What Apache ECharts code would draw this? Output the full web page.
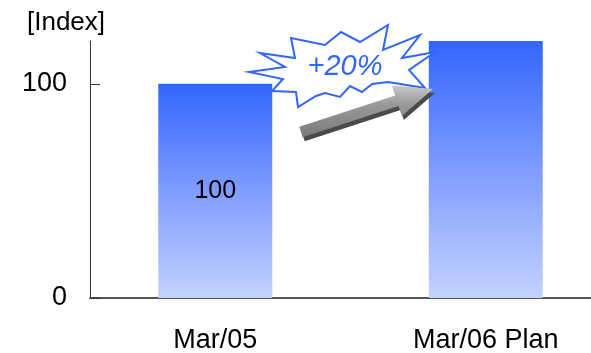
<!DOCTYPE html>
<html>
<head>
<meta charset="utf-8">
<script src="https://cdn.jsdelivr.net/npm/echarts@6/dist/echarts.min.js"></script>
<style>
  html, body { margin: 0; padding: 0; background: #fff; }
  #chart { width: 591px; height: 353px; }
</style>
</head>
<body>
<div id="chart"></div>
<script>
// Index comparison: actual vs. plan
const categories = ['Mar/05', 'Mar/06 Plan'];
const indexValues = [100, 120];
const yTickValues = [0, 100];
const yAxisTitle = '[Index]';

const FONT = '"Liberation Sans", Arial, Helvetica, sans-serif';
const growthPct = Math.round((indexValues[1] / indexValues[0] - 1) * 100);
const growthText = '+' + growthPct + '%';

const barGradient = new echarts.graphic.LinearGradient(0, 0, 0, 1, [
  { offset: 0, color: '#3366ff' },
  { offset: 0.5, color: '#7f9cff' },
  { offset: 1, color: '#c4d2ff' }
]);

// Starburst callout outline
const burst = [
  [249, 72], [285, 67], [260, 53], [295, 58], [291, 38], [325, 45],
  [341, 32], [360, 42], [388, 25], [383, 50], [420, 35], [402, 58],
  [435, 52], [409, 70], [425, 88], [388, 82], [372, 84], [362, 92],
  [350, 86], [340, 97], [325, 93], [316, 96], [298, 107], [296, 92],
  [272, 91], [283, 79]
];

// Growth arrow geometry (tail centre -> tip)
const tail = [301, 132], tip = [433, 89];
const dx = tip[0] - tail[0], dy = tip[1] - tail[1];
const len = Math.hypot(dx, dy);
const ux = dx / len, uy = dy / len, nx = -uy, ny = ux;
const headLen = 38, shaftHalf = 5.5, headHalf = 16;
const bx = tip[0] - ux * headLen, by = tip[1] - uy * headLen;
const P = (x, y, s) => [x + nx * s, y + ny * s];
const arrowPts = [
  P(tail[0], tail[1], -shaftHalf),
  P(bx, by, -shaftHalf),
  P(bx, by, -headHalf),
  tip,
  P(bx, by, headHalf),
  P(bx, by, shaftHalf),
  P(tail[0], tail[1], shaftHalf)
];
const arrowShadow = arrowPts.map(p => [p[0] + 2, p[1] + 4]);

const chart = echarts.init(document.getElementById('chart'), null, { renderer: 'canvas' });

chart.setOption({
  animation: false,
  backgroundColor: '#ffffff',
  title: {
    text: yAxisTitle,
    left: 27,
    top: 10,
    padding: 0,
    textStyle: { fontFamily: FONT, fontSize: 26, fontWeight: 'normal', color: '#000' }
  },
  grid: [
    { left: 80, width: 541, top: 41, height: 257, outerBoundsMode: 'none', containLabel: false },
    { left: 90, width: 501, top: 41, height: 257, outerBoundsMode: 'none', containLabel: false }
  ],
  xAxis: [
    {
      type: 'category', gridIndex: 0, data: categories,
      axisLine: { show: false }, axisTick: { show: false },
      axisLabel: { fontFamily: FONT, fontSize: 27, color: '#000', margin: 29 }
    },
    {
      type: 'category', gridIndex: 1, data: categories,
      axisLine: { show: true, lineStyle: { color: '#555', width: 2 } },
      axisTick: { show: false }, axisLabel: { show: false }
    }
  ],
  yAxis: [
    { type: 'value', gridIndex: 0, min: 0, max: 120, show: false },
    {
      type: 'value', gridIndex: 1, min: 0, max: 120,
      splitLine: { show: false },
      axisLine: { show: true, lineStyle: { color: '#333', width: 1 } },
      axisTick: { show: true, inside: true, length: 10, customValues: yTickValues, lineStyle: { color: '#333' } },
      axisLabel: { customValues: yTickValues, fontFamily: FONT, fontSize: 27, color: '#000', margin: 23 }
    }
  ],
  series: [{
    type: 'bar',
    xAxisIndex: 0, yAxisIndex: 0,
    barWidth: 114,
    itemStyle: { color: barGradient },
    data: indexValues.map((v, i) => i === 0
      ? { value: v, label: { show: true, position: 'inside', fontFamily: FONT, fontSize: 25, color: '#000' } }
      : { value: v })
  }],
  graphic: [
    {
      type: 'polygon', z: 100,
      shape: { points: burst },
      style: { fill: '#ffffff', stroke: '#3366ff', lineWidth: 2, lineJoin: 'miter' }
    },
    {
      type: 'text', z: 101, x: 345, y: 67,
      style: {
        text: growthText, fill: '#3366ff', font: 'italic 29px ' + FONT,
        align: 'center', verticalAlign: 'middle'
      }
    },
    {
      type: 'polygon', z: 102,
      shape: { points: arrowShadow },
      style: { fill: '#4a4a4a' }
    },
    {
      type: 'polygon', z: 103,
      shape: { points: arrowPts },
      style: {
        fill: new echarts.graphic.LinearGradient(0, 0, 0, 1, [
          { offset: 0, color: '#c8c8c8' },
          { offset: 0.35, color: '#9a9a9a' },
          { offset: 1, color: '#7a7a7a' }
        ])
      }
    }
  ]
});
</script>
</body>
</html>
